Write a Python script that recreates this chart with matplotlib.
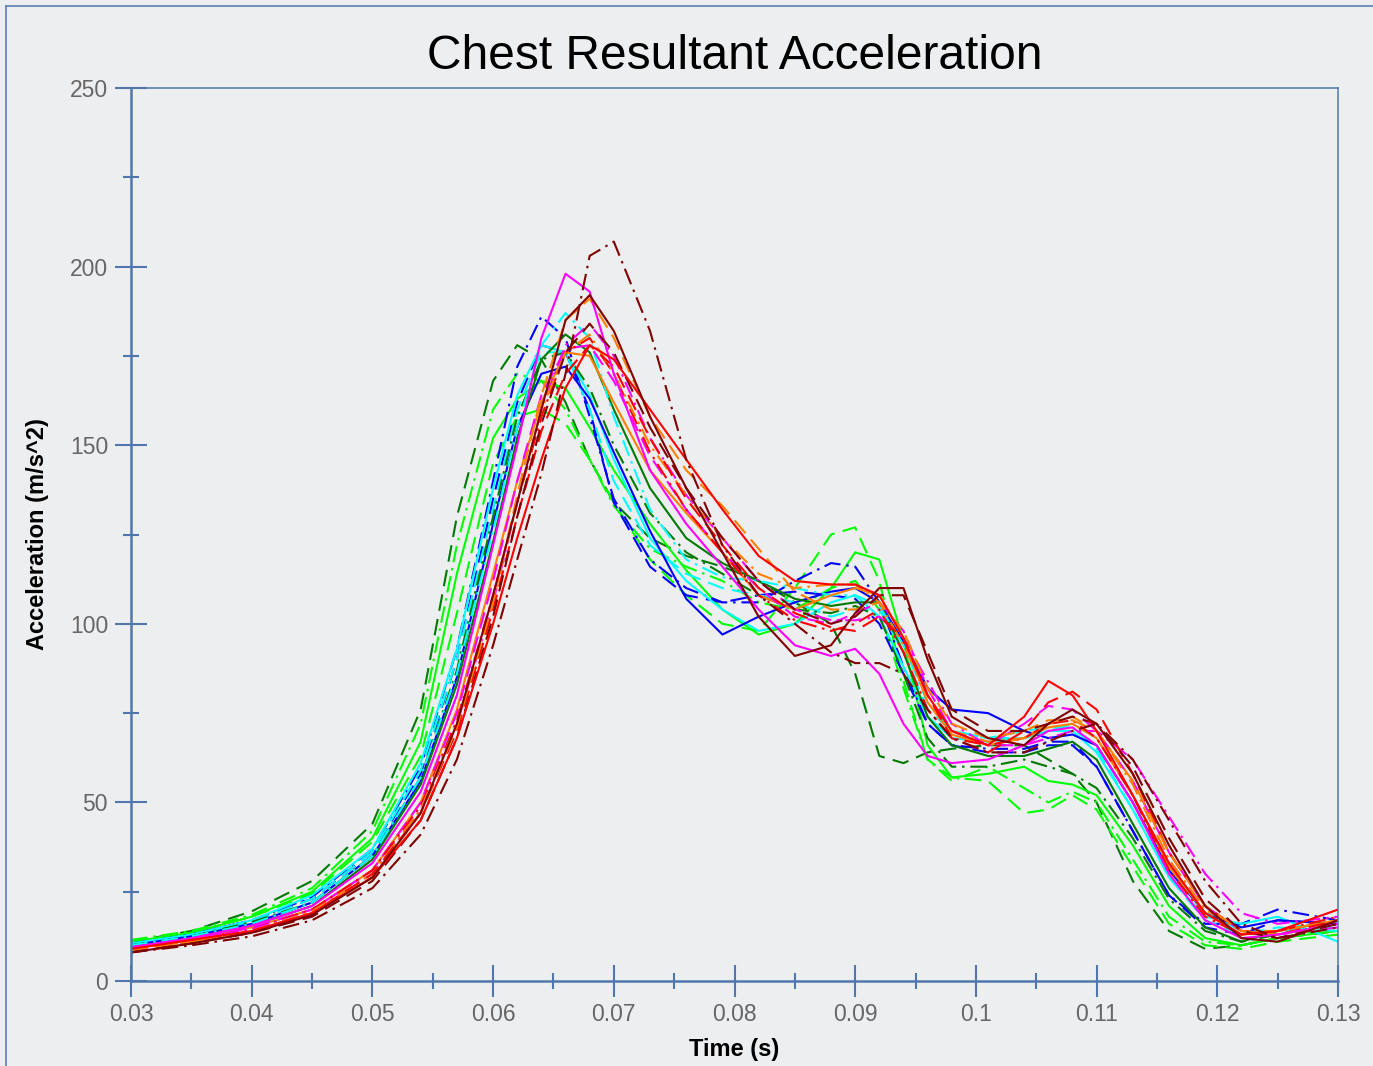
import matplotlib
matplotlib.use("Agg")
import matplotlib.pyplot as plt
from matplotlib.lines import Line2D
from matplotlib.ticker import MultipleLocator, FuncFormatter

plt.rcParams["font.family"] = ["Liberation Sans", "DejaVu Sans"]

# sample times (s) shared by every test curve
TIME = [0.030, 0.035, 0.040, 0.045, 0.050, 0.054, 0.057, 0.060, 0.062, 0.064,
        0.066, 0.068, 0.070, 0.073, 0.076, 0.079, 0.082, 0.085, 0.088, 0.090,
        0.092, 0.094, 0.096, 0.098, 0.101, 0.104, 0.106, 0.108, 0.110, 0.113,
        0.116, 0.119, 0.122, 0.125, 0.130]

# chest resultant acceleration (m/s^2)
red_solid = [9, 11.5, 14, 19, 29, 45, 68, 100, 124, 146, 166, 178, 174, 160, 146, 132, 119, 112, 111, 111,
             108, 96, 80, 70, 66, 74, 84, 80, 70, 52, 33, 19, 13, 14, 20]
red_dashed = [8.5, 11, 14, 19, 30, 47, 70, 104, 130, 154, 170, 178, 172, 152, 135, 122, 110, 103, 99, 98,
              102, 96, 80, 68, 64, 70, 78, 81, 76, 58, 36, 21, 14, 13, 17]
red_dashdot = [9, 11.5, 14.5, 20, 31, 49, 73, 108, 134, 158, 176, 180, 170, 148, 132, 120, 108, 101, 98, 100,
               104, 92, 76, 68, 66, 68, 72, 73, 68, 52, 31, 18, 13, 14, 18]
blue_solid = [10, 12.5, 16, 22, 35, 56, 85, 128, 155, 170, 172, 163, 148, 126, 107, 97, 102, 106, 109, 110,
              106, 95, 82, 76, 75, 70, 68, 69, 66, 50, 31, 19, 15, 17, 16]
blue_dashed = [10, 13, 17, 23, 36, 58, 90, 135, 162, 178, 176, 160, 134, 116, 108, 106, 108, 109, 108, 107,
               100, 86, 72, 66, 64, 64, 66, 66, 60, 42, 24, 15, 13, 17, 16]
blue_dashdot = [10.5, 13, 17, 23.5, 37, 60, 93, 140, 172, 186, 180, 158, 135, 118, 110, 106, 106, 112, 117, 116,
                106, 88, 72, 66, 65, 65, 67, 67, 60, 42, 24, 16, 16, 20, 17]
lime_solid = [11, 13.5, 18, 25, 40, 67, 114, 152, 163, 168, 166, 155, 143, 128, 115, 104, 97, 100, 110, 120,
              118, 95, 66, 57, 58, 60, 56, 55, 52, 38, 21, 12, 10, 12, 14]
lime_dashed = [11, 13.5, 18, 24.5, 39, 63, 103, 145, 158, 160, 156, 146, 134, 118, 108, 100, 98, 110, 125, 127,
               112, 84, 62, 57, 56, 47, 48, 52, 48, 32, 16, 10, 9, 11, 13]
lime_dashdot = [11.5, 14, 18.5, 26, 42, 72, 122, 160, 170, 168, 160, 146, 133, 121, 116, 112, 106, 104, 110, 112,
                104, 82, 62, 56, 60, 54, 50, 53, 50, 34, 18, 11, 10, 12, 15]
green_solid = [9.5, 12, 15.5, 21, 34, 55, 83, 123, 152, 174, 181, 176, 160, 138, 124, 117, 112, 107, 105, 106,
               106, 92, 74, 66, 63, 63, 65, 67, 62, 44, 26, 15, 11, 14, 17]
green_dashed = [11, 14, 19.5, 28, 44, 76, 130, 168, 178, 174, 162, 146, 134, 124, 119, 116, 112, 106, 100, 86,
                63, 61, 64, 65, 66, 66, 62, 58, 50, 28, 14, 9, 10, 12, 14]
green_dashdot = [10, 12.5, 16.5, 22, 35, 57, 87, 130, 158, 174, 176, 166, 150, 131, 120, 114, 108, 104, 103, 105,
                 102, 86, 68, 60, 60, 62, 60, 58, 54, 40, 23, 14, 11, 13, 16]
cyan_solid = [10.5, 13, 17, 24, 37, 61, 93, 138, 164, 178, 176, 164, 146, 124, 112, 104, 98, 100, 106, 108,
              102, 88, 74, 68, 67, 68, 70, 70, 64, 48, 29, 18, 16, 18, 11]
cyan_dashed = [10, 12.5, 16.5, 23, 36, 59, 90, 132, 160, 176, 176, 160, 140, 122, 114, 110, 108, 106, 102, 104,
               104, 92, 76, 70, 68, 70, 71, 71, 65, 48, 29, 17, 13, 15, 14]
cyan_dashdot = [10, 12.5, 16, 22, 35, 57, 86, 126, 155, 178, 187, 180, 158, 132, 118, 113, 112, 110, 108, 108,
                105, 94, 78, 70, 68, 68, 70, 72, 68, 52, 32, 19, 14, 14, 15]
magenta_solid = [9.5, 12, 15.5, 21, 33, 53, 80, 122, 150, 180, 198, 193, 170, 143, 128, 116, 104, 94, 91, 93,
                 86, 72, 63, 61, 62, 66, 70, 71, 66, 50, 30, 17, 12, 13, 16]
magenta_dashed = [9, 11.5, 15, 20, 31, 50, 75, 112, 140, 164, 177, 178, 168, 147, 132, 120, 110, 102, 100, 103,
                  106, 98, 82, 70, 66, 72, 77, 76, 70, 56, 36, 21, 14, 13, 15]
magenta_dashdot = [9, 11.5, 14.5, 19.5, 30, 48, 72, 106, 134, 160, 178, 184, 175, 152, 136, 124, 112, 104, 101, 101,
                   102, 96, 84, 72, 66, 66, 68, 70, 70, 62, 46, 30, 19, 16, 18]
orange_solid = [9, 11.5, 15, 20, 31, 50, 76, 114, 140, 162, 176, 175, 162, 143, 131, 120, 108, 104, 108, 110,
                108, 96, 78, 69, 66, 68, 71, 72, 68, 52, 32, 19, 13, 14, 17]
orange_dashed = [8.5, 11, 14, 19, 29, 47, 71, 106, 136, 164, 185, 191, 180, 158, 143, 133, 121, 109, 104, 104,
                 106, 98, 82, 72, 68, 70, 73, 73, 70, 56, 36, 21, 14, 13, 16]
orange_dashdot = [9, 11, 14, 19.5, 30, 48, 72, 107, 134, 160, 176, 181, 170, 150, 136, 124, 114, 110, 111, 111,
                  106, 94, 80, 70, 67, 68, 72, 74, 70, 55, 34, 20, 14, 14, 17]
maroon_solid = [8, 10.5, 13.5, 18.5, 29, 47, 72, 108, 134, 160, 185, 192, 182, 158, 138, 120, 102, 91, 94, 103,
                110, 110, 90, 74, 68, 66, 72, 76, 72, 58, 38, 21, 12, 11, 17]
maroon_dashed = [8, 10.5, 13.5, 18, 28, 45, 68, 102, 130, 156, 176, 184, 176, 155, 138, 124, 112, 104, 100, 102,
                 108, 108, 92, 76, 70, 70, 72, 74, 72, 60, 40, 23, 14, 12, 16]
maroon_dashdot = [8, 10, 12.5, 17, 26, 41, 62, 94, 118, 142, 170, 203, 207, 182, 146, 122, 108, 100, 92, 89,
                  89, 86, 76, 68, 64, 64, 67, 70, 72, 62, 45, 28, 16, 12, 15]

RED, BLUE, LIME, GREEN = "#ff0000", "#0000ff", "#00ff00", "#007a00"
CYAN, MAGENTA, ORANGE, MAROON = "#00ffff", "#ff00ff", "#ff8000", "#800000"
AXIS_BLUE = "#4f77ad"
BG = "#edeef0"

SOLID = "-"
DASHED = (0, (8, 4))
DASHDOT = (0, (8, 2.8, 1.2, 2.8))

curves = [
    (green_dashed, GREEN, DASHED), (lime_dashdot, LIME, DASHDOT), (lime_dashed, LIME, DASHED),
    (lime_solid, LIME, SOLID), (blue_dashdot, BLUE, DASHDOT), (blue_dashed, BLUE, DASHED),
    (cyan_solid, CYAN, SOLID), (cyan_dashed, CYAN, DASHED), (blue_solid, BLUE, SOLID),
    (green_dashdot, GREEN, DASHDOT), (green_solid, GREEN, SOLID), (cyan_dashdot, CYAN, DASHDOT),
    (orange_solid, ORANGE, SOLID), (magenta_dashed, MAGENTA, DASHED), (red_dashdot, RED, DASHDOT),
    (magenta_dashdot, MAGENTA, DASHDOT), (orange_dashdot, ORANGE, DASHDOT), (red_dashed, RED, DASHED),
    (orange_dashed, ORANGE, DASHED), (magenta_solid, MAGENTA, SOLID), (maroon_dashed, MAROON, DASHED),
    (red_solid, RED, SOLID), (maroon_solid, MAROON, SOLID), (maroon_dashdot, MAROON, DASHDOT),
]

fig = plt.figure(figsize=(13.73, 10.66), dpi=100)
fig.patch.set_facecolor(BG)
ax = fig.add_axes([131 / 1373, 1 - 981 / 1066, (1338 - 131) / 1373, (981 - 88) / 1066])
ax.set_facecolor(BG)

for values, color, style in curves:
    ax.plot(TIME, values, color=color, linestyle=style, linewidth=1.5,
            solid_joinstyle="round", dash_joinstyle="round")

ax.set_xlim(0.03, 0.13)
ax.set_ylim(0, 250)
ax.xaxis.set_major_locator(MultipleLocator(0.01))
ax.xaxis.set_minor_locator(MultipleLocator(0.005))
ax.yaxis.set_major_locator(MultipleLocator(50))
ax.yaxis.set_minor_locator(MultipleLocator(25))
ax.xaxis.set_major_formatter(FuncFormatter(lambda v, _: f"{round(v, 3):g}"))
ax.yaxis.set_major_formatter(FuncFormatter(lambda v, _: f"{v:g}"))

ax.tick_params(which="major", direction="inout", length=23, width=1.5, color=AXIS_BLUE,
               labelcolor="#666666", labelsize=16.5)
ax.tick_params(which="minor", direction="inout", length=11.5, width=1.5, color=AXIS_BLUE)
ax.tick_params(axis="x", which="major", pad=4)
ax.tick_params(axis="y", which="major", pad=5)

for side, lw in (("left", 1.8), ("bottom", 1.8), ("top", 1.1), ("right", 1.1)):
    ax.spines[side].set_color(AXIS_BLUE)
    ax.spines[side].set_linewidth(lw)

ax.set_title("Chest Resultant Acceleration", fontsize=34.5, pad=14, color="black")
ax.set_xlabel("Time (s)", fontsize=17, fontweight="bold", labelpad=9)
ax.set_ylabel("Acceleration (m/s^2)", fontsize=17, fontweight="bold", labelpad=15)

# outer frame (only top and left edges fall inside the image)
fig.add_artist(Line2D([6 / 1373, 6 / 1373], [0, 1 - 6 / 1066], color="#5b80b7", linewidth=1.2))
fig.add_artist(Line2D([6 / 1373, 1], [1 - 6 / 1066, 1 - 6 / 1066], color="#5b80b7", linewidth=1.2))

fig.savefig("out.png", dpi=100, facecolor=fig.get_facecolor())
